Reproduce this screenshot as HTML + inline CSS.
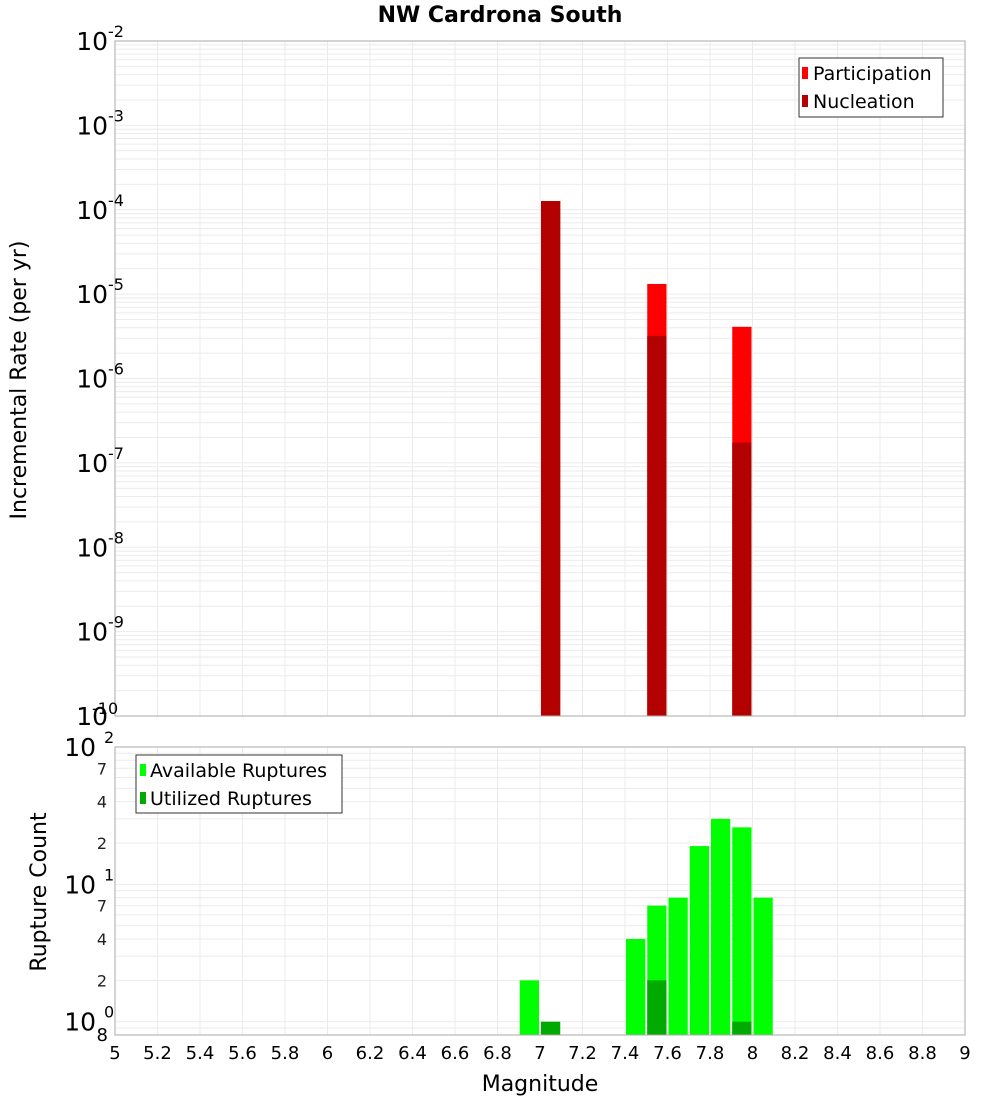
<!DOCTYPE html>
<html><head><meta charset="utf-8"><style>
body{margin:0;background:#fff;}
svg text{font-family:"DejaVu Sans","Liberation Sans",sans-serif;}
</style></head><body>
<svg id="chart" width="1000" height="1100" viewBox="0 0 1000 1100" xmlns="http://www.w3.org/2000/svg">
<text x="500" y="22" text-anchor="middle" font-size="22" font-weight="bold">NW Cardrona South</text>
<g id="topplot"></g><g id="botplot"></g>
<text transform="translate(26,380) rotate(-90)" text-anchor="middle" font-size="22">Incremental Rate (per yr)</text>
<text transform="translate(46,892) rotate(-90)" text-anchor="middle" font-size="22">Rupture Count</text>
<text x="540" y="1091" text-anchor="middle" font-size="22">Magnitude</text>
</svg>
<script>
const topMags=[7.05,7.55,7.95];
const participation=[1.27e-4,1.32e-5,4.1e-6];
const nucleation=[1.27e-4,3.2e-6,1.74e-7];
const botMags=[6.95,7.05,7.45,7.55,7.65,7.75,7.85,7.95,8.05];
const available=[2,0,4,7,8,19,30,26,8];
const utilized=[0,1,0,2,0,0,0,1,0];
const xTicks=[5,5.2,5.4,5.6,5.8,6,6.2,6.4,6.6,6.8,7,7.2,7.4,7.6,7.8,8,8.2,8.4,8.6,8.8,9];
const topDecades=[-2,-3,-4,-5,-6,-7,-8,-9,-10];
const botDecades=[0,1,2];
const botMinor=[2,4,7];

const NS="http://www.w3.org/2000/svg";
const X0=115,X1=965;
const xs=m=>X0+(m-5)/4*(X1-X0);
const T0=41,T1=716;
const yt=v=>T0+(-2-Math.log10(v))/8*(T1-T0);
const B0=747,B1=1035;
const bmin=Math.log10(0.8),bmax=2;
const yb=v=>B1-(Math.log10(v)-bmin)/(bmax-bmin)*(B1-B0);
function mk(p,tag,a){const e=document.createElementNS(NS,tag);for(const k in a)e.setAttribute(k,a[k]);p.appendChild(e);return e;}
const topG=document.getElementById('topplot'),botG=document.getElementById('botplot');

for(let d=-10;d<-2;d++)for(let k=1;k<10;k++){const v=k*Math.pow(10,d);const y=yt(v);
 const l=mk(topG,'line',{x1:X0,x2:X1,y1:y,y2:y,stroke:'#ebebeb','stroke-width':1});
 
 }
xTicks.forEach(t=>{const l=mk(topG,'line',{x1:xs(t),x2:xs(t),y1:T0,y2:T1,stroke:'#ebebeb'});
 
 });
const bw=(X1-X0)/40-2;
topMags.forEach((m,i)=>{
 const r=mk(topG,'rect',{x:xs(m)-bw/2,y:yt(participation[i]),width:bw,height:T1-yt(participation[i]),fill:'#ff0000'});
 
 
 const n=mk(topG,'rect',{x:xs(m)-bw/2,y:yt(nucleation[i]),width:bw,height:T1-yt(nucleation[i]),fill:'#b30000'});
 
 
});
const tf=mk(topG,'rect',{x:X0,y:T0,width:X1-X0,height:T1-T0,fill:'none',stroke:'#aaa'});


topDecades.forEach(d=>{const y=yt(Math.pow(10,d));
 const t=mk(topG,'text',{x:108,y:y+9,'text-anchor':'end','font-size':25});
 
 
 t.textContent='10';
 const s=mk(topG,'text',{x:108,y:y-4,'font-size':16});
 
 
 s.textContent=String(d);
 if(d===-10){s.setAttribute('x',92);s.setAttribute('y',y-2);}
});
const lg=mk(topG,'g',{});


mk(lg,'rect',{x:799,y:58,width:144,height:59,fill:'#fff',stroke:'#333'});
[['Participation','#ff0000',73],['Nucleation','#b30000',101]].forEach(([n,c,y])=>{
 const g=mk(lg,'g',{});
 
 
 mk(g,'rect',{x:802,y:y-6,width:6,height:12,fill:c});
 const t=mk(g,'text',{x:813,y:y+7,'font-size':19});t.textContent=n;});

for(let d=-1;d<2;d++)for(let k=1;k<10;k++){const v=k*Math.pow(10,d);if(v<0.8)continue;const y=yb(v);
 const l=mk(botG,'line',{x1:X0,x2:X1,y1:y,y2:y,stroke:'#ebebeb'});
 
 }
xTicks.forEach(t=>{const l=mk(botG,'line',{x1:xs(t),x2:xs(t),y1:B0,y2:B1,stroke:'#ebebeb'});
 
 });
const bw2=(X1-X0)/40-2;
botMags.forEach((m,i)=>{
 if(available[i]>0){const r=mk(botG,'rect',{x:xs(m)-bw2/2,y:yb(available[i]),width:bw2,height:B1-yb(available[i]),fill:'#00ff00'});
 
 }
 if(utilized[i]>0){const r=mk(botG,'rect',{x:xs(m)-bw2/2,y:yb(utilized[i]),width:bw2,height:B1-yb(utilized[i]),fill:'#00aa00'});
 
 }
});
const bf=mk(botG,'rect',{x:X0,y:B0,width:X1-X0,height:B1-B0,fill:'none',stroke:'#aaa'});


botDecades.forEach(d=>{const y=yb(Math.pow(10,d));
 const t=mk(botG,'text',{x:96,y:y+9,'text-anchor':'end','font-size':25});
 
 
 t.textContent='10';
 const s=mk(botG,'text',{x:104,y:y-4,'font-size':16});
 
 
 s.textContent=String(d);
 if(d<2)botMinor.forEach(k=>{const yy=yb(k*Math.pow(10,d));
  const m=mk(botG,'text',{x:107,y:yy+6,'text-anchor':'end','font-size':16,fill:'#222'});
  
  
  m.textContent=String(k);});
});
const e8=mk(botG,'text',{x:108,y:1041,'text-anchor':'end','font-size':18});


e8.textContent='8';
xTicks.forEach(t=>{const tx=mk(botG,'text',{x:xs(t),y:1059,'text-anchor':'middle','font-size':18});
 
 
 tx.textContent=String(t);});
const lb=mk(botG,'g',{});


mk(lb,'rect',{x:136,y:755,width:206,height:58,fill:'#fff',stroke:'#333'});
[['Available Ruptures','#00ff00',770],['Utilized Ruptures','#00aa00',798]].forEach(([n,c,y])=>{
 const g=mk(lb,'g',{});
 
 
 mk(g,'rect',{x:140,y:y-6,width:6,height:12,fill:c});
 const t=mk(g,'text',{x:150,y:y+7,'font-size':19});t.textContent=n;});
</script>
</body></html>
